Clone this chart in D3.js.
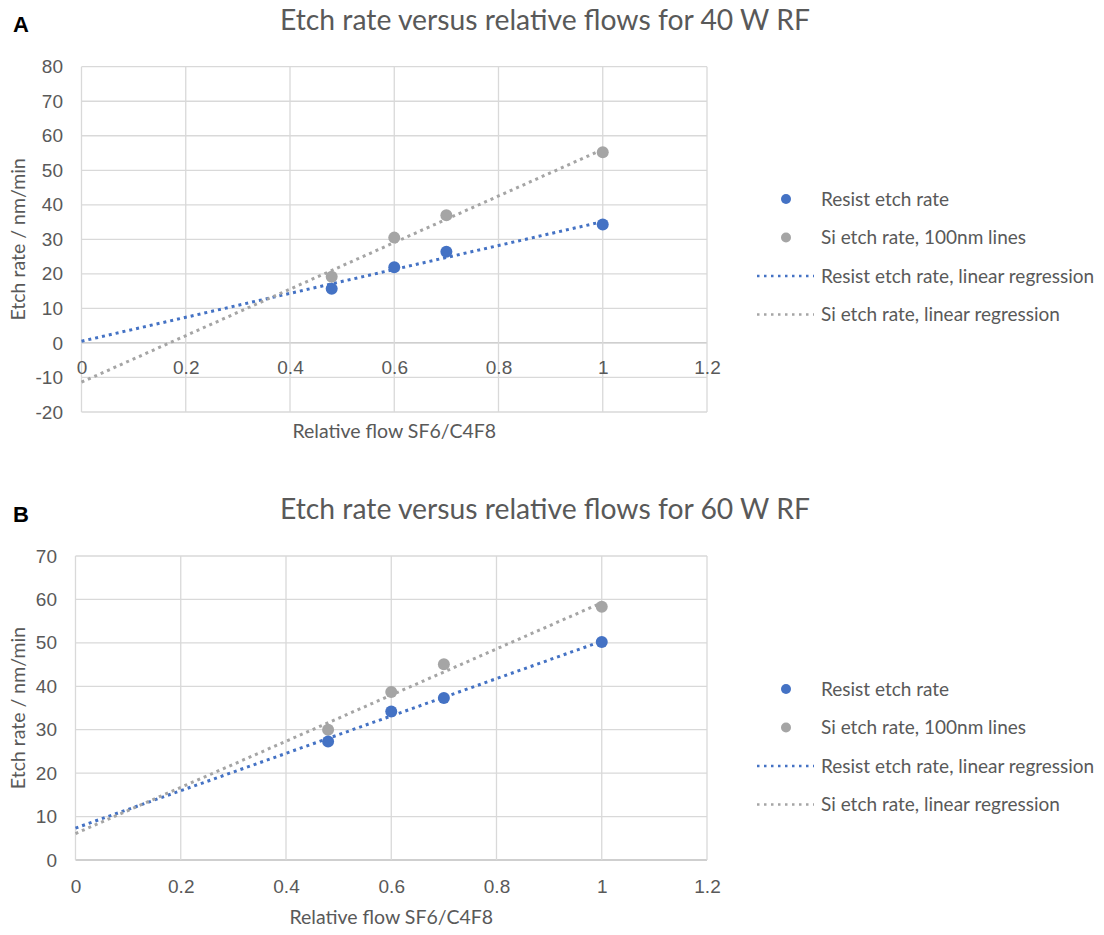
<!DOCTYPE html>
<html lang="en">
<head>
  <meta charset="UTF-8">
  <title>Etch rate versus relative flows</title>
  <script src="https://d3js.org/d3.v7.min.js"></script>
  <style>
    body { margin: 0; background: #fff; }
    svg { display: block; font-family: Lato, "Open Sans", sans-serif; }
    .tick text { fill: #595959; font-size: 19px; }
    .grid line { stroke: #d9d9d9; stroke-width: 1.3; }
    .title { fill: #595959; font-size: 28.3px; }
    .axis-title { fill: #595959; font-size: 19.5px; }
    .legend text { fill: #595959; font-size: 19px; }
    .panel-letter { font-family: "Liberation Sans", Arial, sans-serif; font-weight: bold; font-size: 22px; fill: #000; }
  </style>
</head>
<body>
<div id="chart"></div>
<script>
  // Data
  const flows = [0.48, 0.6, 0.7, 1.0];
  const resist40 = [15.7, 21.9, 26.4, 34.3];
  const si40 = [19.2, 30.5, 37.0, 55.2];
  const resist60 = [27.3, 34.2, 37.3, 50.2];
  const si60 = [30.0, 38.7, 45.1, 58.3];
  const xTicks = [0, 0.2, 0.4, 0.6, 0.8, 1, 1.2];
  const yTicks40 = [-20, -10, 0, 10, 20, 30, 40, 50, 60, 70, 80];
  const yTicks60 = [0, 10, 20, 30, 40, 50, 60, 70];
  const legendLabels = ["Resist etch rate", "Si etch rate, 100nm lines",
                        "Resist etch rate, linear regression", "Si etch rate, linear regression"];

  const blue = "#4472c4", grey = "#a5a5a5";

  const svg = d3.select("#chart").append("svg")
    .attr("width", 1104).attr("height", 935);

  // least squares fit, drawn from x=0 to x=1 like the Excel trendline
  function fit(xs, ys) {
    const mx = d3.mean(xs), my = d3.mean(ys);
    const sxy = d3.sum(xs, (x, i) => (x - mx) * (ys[i] - my));
    const sxx = d3.sum(xs, x => (x - mx) * (x - mx));
    const b = sxy / sxx, a = my - b * mx;
    return [0, 1].map(x => [x, a + b * x]);
  }

  function panel(o) {
    const g = svg.append("g");
    const x = d3.scaleLinear().domain([0, 1.2]).range([o.left, 707]);
    const y = d3.scaleLinear().domain(o.yDomain).range([o.bottom, o.top]);

    g.append("text").attr("class", "panel-letter")
      .attr("x", 13).attr("y", o.letterY).text(o.letter);
    g.append("text").attr("class", "title")
      .attr("x", 545).attr("y", o.titleY).attr("text-anchor", "middle").text(o.title);

    // gridlines
    const grid = g.append("g").attr("class", "grid");
    grid.selectAll(".h").data(o.yTicks).join("line")
      .attr("x1", x(0)).attr("x2", x(1.2))
      .attr("y1", d => y(d)).attr("y2", d => y(d))
      .style("stroke", d => d === 0 ? "#bfbfbf" : null);
    grid.selectAll(".v").data(xTicks).join("line")
      .attr("x1", d => x(d)).attr("x2", d => x(d))
      .attr("y1", y(o.yDomain[0])).attr("y2", y(o.yDomain[1]));

    // axes (labels only)
    const yAxis = g.append("g").attr("transform", `translate(${o.yLabelX},0)`)
      .call(d3.axisLeft(y).tickValues(o.yTicks).tickSize(0).tickPadding(0).tickFormat(d => String(d)));
    yAxis.select(".domain").remove();

    const xAxis = g.append("g").attr("transform", `translate(0,${y(0) + o.xLabelOffset})`)
      .call(d3.axisBottom(x).tickValues(xTicks).tickSize(0).tickPadding(0).tickFormat(d => String(d)));
    xAxis.select(".domain").remove();

    g.append("text").attr("class", "axis-title")
      .attr("x", (o.left + 707) / 2).attr("y", o.xTitleY).attr("text-anchor", "middle")
      .text("Relative flow SF6/C4F8");
    g.append("text").attr("class", "axis-title")
      .attr("transform", `translate(25,${(o.top + o.bottom) / 2}) rotate(-90)`)
      .attr("text-anchor", "middle").text("Etch rate / nm/min");

    // trendlines
    const line = d3.line().x(d => x(d[0])).y(d => y(d[1]));
    [[o.resist, blue], [o.si, grey]].forEach(([vals, c]) => {
      g.append("path").attr("d", line(fit(flows, vals)))
        .attr("fill", "none").attr("stroke", c).attr("stroke-width", 3)
        .attr("stroke-dasharray", "3 4");
    });

    // points (grey first, blue on top)
    [[o.si, grey], [o.resist, blue]].forEach(([vals, c]) => {
      g.selectAll(null).data(flows).join("circle")
        .attr("cx", d => x(d)).attr("cy", (d, i) => y(vals[i]))
        .attr("r", 6).attr("fill", c);
    });

    // legend
    const lg = g.append("g").attr("class", "legend");
    legendLabels.forEach((lab, i) => {
      const ly = o.legendY + i * 38.5;
      const c = i % 2 === 0 ? blue : grey;
      if (i < 2) {
        lg.append("circle").attr("cx", 786).attr("cy", ly).attr("r", 5).attr("fill", c);
      } else {
        lg.append("line").attr("x1", 757).attr("x2", 814).attr("y1", ly).attr("y2", ly)
          .attr("stroke", c).attr("stroke-width", 2.5).attr("stroke-dasharray", "2.5 4.5");
      }
      lg.append("text").attr("x", 821).attr("y", ly).attr("dy", "0.35em").text(lab);
    });
  }

  panel({
    letter: "A", letterY: 32, title: "Etch rate versus relative flows for 40 W RF", titleY: 30,
    left: 81.5, top: 66.7, bottom: 412, yDomain: [-20, 80], yTicks: yTicks40, yLabelX: 63,
    xLabelOffset: 18, xTitleY: 438, resist: resist40, si: si40, legendY: 199
  });
  panel({
    letter: "B", letterY: 522, title: "Etch rate versus relative flows for 60 W RF", titleY: 519,
    left: 75.5, top: 556, bottom: 860, yDomain: [0, 70], yTicks: yTicks60, yLabelX: 57,
    xLabelOffset: 19, xTitleY: 924, resist: resist60, si: si60, legendY: 689
  });
</script>
</body>
</html>
